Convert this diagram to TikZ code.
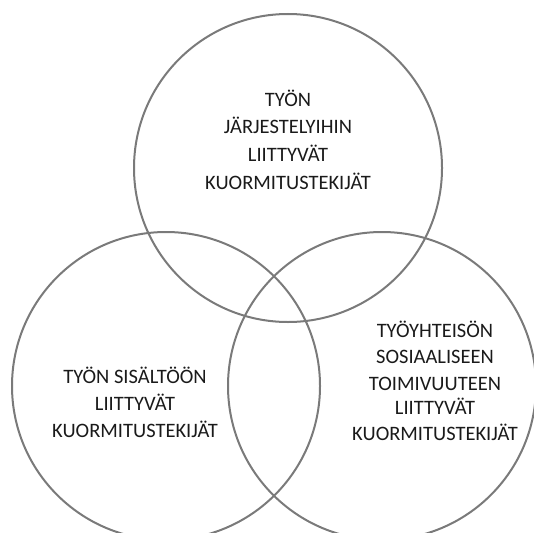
\documentclass[tikz,border=0pt]{standalone}
\usepackage{fontspec}
\setmainfont{Carlito}
\definecolor{ringgray}{HTML}{7A7A7A}
\definecolor{txt}{HTML}{1A1A1A}
\begin{document}
\begin{tikzpicture}[x=1pt,y=-1pt,
  ring/.style={circle, draw=ringgray, line width=2pt, minimum size=308pt, inner sep=0pt},
  lbl/.style={anchor=base, inner sep=0pt, text=txt, font=\fontsize{20.5}{24}\selectfont}]
\useasboundingbox (0,0) rectangle (534,532);
\node[ring] (ctop) at (288,168) {};
\node[ring] (cleft) at (166,386) {};
\node[ring] (cright) at (382,386) {};
% top label
\node[lbl] (t1) at (288,106.7) {TYÖN};
\node[lbl] (t2) at (288,133.3) {JÄRJESTELYIHIN};
\node[lbl] (t3) at (288,161) {LIITTYVÄT};
\node[lbl] (t4) at (288,189) {KUORMITUSTEKIJÄT};
% left label
\node[lbl] (l1) at (135,383.3) {TYÖN SISÄLTÖÖN};
\node[lbl] (l2) at (135,410) {LIITTYVÄT};
\node[lbl] (l3) at (135,437.3) {KUORMITUSTEKIJÄT};
% right label
\node[lbl] (r1) at (435,337) {TYÖYHTEISÖN};
\node[lbl] (r2) at (435,363.6) {SOSIAALISEEN};
\node[lbl] (r3) at (435,390) {TOIMIVUUTEEN};
\node[lbl] (r4) at (435,414.7) {LIITTYVÄT};
\node[lbl] (r5) at (435,440) {KUORMITUSTEKIJÄT};
\end{tikzpicture}
\end{document}
